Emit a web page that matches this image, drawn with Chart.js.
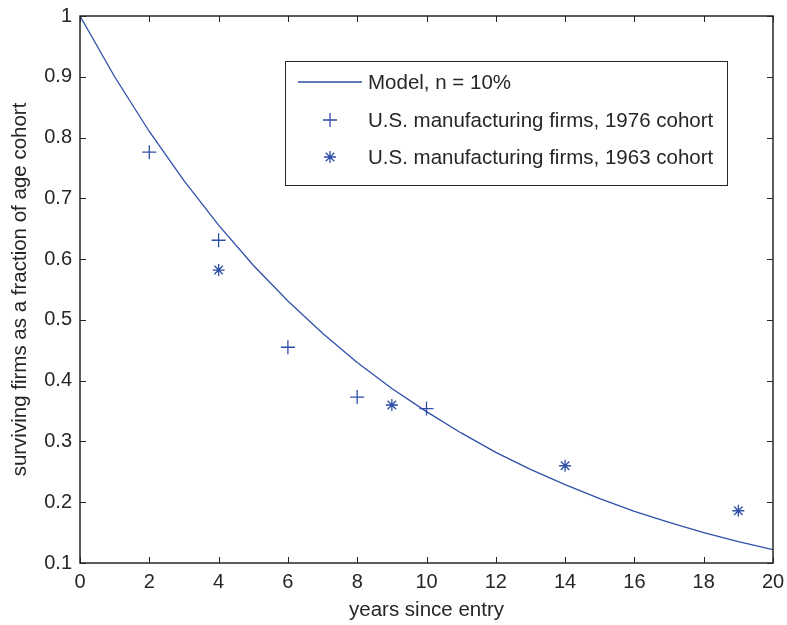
<!DOCTYPE html>
<html><head><meta charset="utf-8">
<script src="https://cdn.jsdelivr.net/npm/chart.js@4/dist/chart.umd.min.js"></script>
<style>html,body{margin:0;padding:0;background:#fff}#wrap{width:787px;height:625px}</style>
</head><body><div id="wrap"><canvas id="c" width="787" height="625"></canvas></div>
<script>
const years = [0,1,2,3,4,5,6,7,8,9,10,11,12,13,14,15,16,17,18,19,20];
const model = [1,0.9,0.81,0.729,0.656,0.59,0.531,0.478,0.43,0.387,0.349,0.314,0.282,0.254,0.229,0.206,0.185,0.167,0.15,0.135,0.122];
const c1976X = [2,4,6,8,10];
const c1976Y = [0.776,0.631,0.455,0.373,0.354];
const c1963X = [4,9,14,19];
const c1963Y = [0.582,0.36,0.26,0.186];
const xTicks = [0,2,4,6,8,10,12,14,16,18,20];
const yTicks = [0.1,0.2,0.3,0.4,0.5,0.6,0.7,0.8,0.9,1];
const labels = ['Model, n = 10%','U.S. manufacturing firms, 1976 cohort','U.S. manufacturing firms, 1963 cohort'];

const BLUE = '#2f4fa8';
const INK = '#262626';
const FONT = "'Liberation Sans', Arial, sans-serif";

const zip = (xs, ys) => xs.map((x,i)=>({x:x,y:ys[i]}));

const boxTicks = {
  id:'boxTicks',
  afterDraw(chart){
    const {ctx, chartArea:a, scales:{x, y}} = chart;
    ctx.save();
    ctx.strokeStyle = INK; ctx.lineWidth = 1;
    const L = 6;
    ctx.beginPath();
    xTicks.forEach(v=>{const px=Math.round(x.getPixelForValue(v))+0.5;
      ctx.moveTo(px,a.bottom); ctx.lineTo(px,a.bottom-L);
      ctx.moveTo(px,a.top); ctx.lineTo(px,a.top+L);});
    yTicks.forEach(v=>{const py=Math.round(y.getPixelForValue(v))+0.5;
      ctx.moveTo(a.left,py); ctx.lineTo(a.left+L,py);
      ctx.moveTo(a.right,py); ctx.lineTo(a.right-L,py);});
    ctx.stroke();
    ctx.lineWidth = 1.5;
    ctx.strokeRect(a.left, a.top, a.right-a.left, a.bottom-a.top);
    // legend
    const bx = a.left+205, by = a.top+45, bw = 442, bh = 124;
    ctx.fillStyle = '#fff'; ctx.fillRect(bx,by,bw,bh);
    ctx.lineWidth = 1; ctx.strokeStyle = INK;
    ctx.strokeRect(bx+0.5,by+0.5,bw,bh);
    const rows = [by+21, by+59, by+96];
    ctx.font = '20.5px ' + FONT; ctx.fillStyle = INK; ctx.textBaseline='middle'; ctx.textAlign='left';
    chart.data.datasets.forEach((ds,i)=>{
      const ry = rows[i];
      ctx.strokeStyle = BLUE; ctx.lineWidth = 1.3;
      if(i===0){ ctx.beginPath(); ctx.moveTo(bx+13,ry); ctx.lineTo(bx+77,ry); ctx.stroke(); }
      else {
        const mx = bx+45, r = ds.pointRadius;
        ctx.beginPath();
        ctx.moveTo(mx-r,ry); ctx.lineTo(mx+r,ry); ctx.moveTo(mx,ry-r); ctx.lineTo(mx,ry+r);
        if(i===2){ const d=r*0.7071; ctx.moveTo(mx-d,ry-d); ctx.lineTo(mx+d,ry+d); ctx.moveTo(mx-d,ry+d); ctx.lineTo(mx+d,ry-d); }
        ctx.stroke();
      }
      ctx.fillStyle = INK;
      ctx.fillText(ds.label, bx+83, ry+1);
    });
    ctx.restore();
  }
};

new Chart(document.getElementById('c'), {
  type:'scatter',
  data:{datasets:[
    {label:labels[0], data:zip(years,model), showLine:true, borderColor:BLUE, borderWidth:1.3, pointRadius:0, fill:false, tension:0},
    {label:labels[1], data:zip(c1976X,c1976Y), pointStyle:'cross', pointRadius:7, borderColor:BLUE, borderWidth:1.3, showLine:false},
    {label:labels[2], data:zip(c1963X,c1963Y), pointStyle:'star', pointRadius:6, borderColor:BLUE, borderWidth:1.3, showLine:false}
  ]},
  options:{
    responsive:false, animation:false, devicePixelRatio:1,
    layout:{padding:{left:0, top:16, right:14, bottom:0}},
    plugins:{legend:{display:false}, tooltip:{enabled:false}},
    scales:{
      x:{type:'linear', min:0, max:20,
        afterBuildTicks(s){ s.ticks = xTicks.map(v=>({value:v})); },
        afterFit(s){ s.height = 62; s.paddingLeft = 0; s.paddingRight = 0; },
        grid:{display:false, drawTicks:false}, border:{display:false},
        ticks:{color:INK, font:{family:FONT, size:20}, padding:7, maxRotation:0, callback:v=>String(v)},
        title:{display:true, text:'years since entry', color:INK, font:{family:FONT, size:20.5}, padding:{top:0,bottom:2}}
      },
      y:{type:'linear', min:0.1, max:1,
        afterBuildTicks(s){ s.ticks = yTicks.map(v=>({value:v})); },
        afterFit(s){ s.width = 80; s.paddingTop = 0; s.paddingBottom = 0; },
        grid:{display:false, drawTicks:false}, border:{display:false},
        ticks:{color:INK, font:{family:FONT, size:20}, padding:8, callback:v=>(v===1?'1':v.toFixed(1))},
        title:{display:true, text:'surviving firms as a fraction of age cohort', color:INK, font:{family:FONT, size:20.5}, padding:{top:8,bottom:4}}
      }
    }
  },
  plugins:[boxTicks]
});
</script></body></html>
